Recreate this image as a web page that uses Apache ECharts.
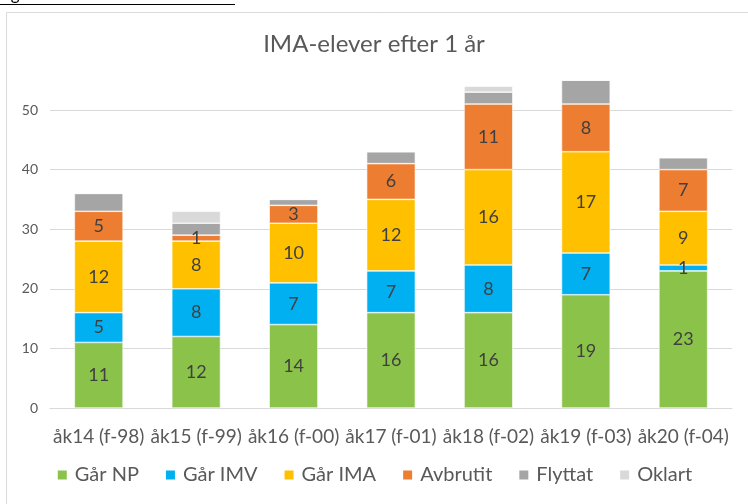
<!DOCTYPE html>
<html>
<head>
<meta charset="utf-8">
<script src="https://cdn.jsdelivr.net/npm/echarts@6/dist/echarts.min.js"></script>
<style>
  html, body { margin: 0; padding: 0; background: #fff; }
  #main { width: 748px; height: 504px; }
</style>
</head>
<body>
<div id="main"></div>
<script>
// data
var categories = ['åk14 (f-98)', 'åk15 (f-99)', 'åk16 (f-00)', 'åk17 (f-01)', 'åk18 (f-02)', 'åk19 (f-03)', 'åk20 (f-04)'];
var garNP = [11, 12, 14, 16, 16, 19, 23];
var garIMV = [5, 8, 7, 7, 8, 7, 1];
var garIMA = [12, 8, 10, 12, 16, 17, 9];
var avbrutit = [5, 1, 3, 6, 11, 8, 7];
var flyttat = [3, 2, 1, 2, 2, 4, 2];
var oklart = [0, 2, 0, 0, 1, 0, 0];
var yTicks = [0, 10, 20, 30, 40, 50];

var font = 'Lato, "Open Sans", sans-serif';

function makeSeries(name, data, color, showLabel) {
    return {
        name: name,
        type: 'bar',
        stack: 'total',
        data: data,
        clip: false,
        barCategoryGap: '50%',
        itemStyle: { color: color, borderColor: '#ffffff', borderWidth: 0.6 },
        label: {
            show: showLabel,
            position: 'inside',
            color: '#404040',
            fontSize: 18,
            fontFamily: font,
            formatter: function (p) { return p.value > 0 ? p.value : ''; }
        }
    };
}

var chart = echarts.init(document.getElementById('main'));

chart.setOption({
    animation: false,
    textStyle: { fontFamily: font },
    title: {
        text: 'IMA-elever efter 1 år',
        left: 'center',
        top: 27,
        textStyle: { color: '#595959', fontSize: 24, fontWeight: 'normal', fontFamily: font }
    },
    graphic: [
        {
            type: 'rect',
            shape: { x: 6.5, y: 12.5, width: 800, height: 600 },
            style: { fill: 'none', stroke: '#d9d9d9', lineWidth: 1 },
            silent: true
        },
        {
            type: 'text',
            left: -3,
            top: -14,
            style: { text: 'Figur 6. IMA-elever efter ett år', fill: '#000', font: '17px ' + font }
        },
        {
            type: 'line',
            shape: { x1: 0, y1: 4.5, x2: 235, y2: 4.5 },
            style: { stroke: '#000', lineWidth: 1.2 }
        }
    ],
    grid: { left: 50, right: 16, top: 110, bottom: 96 },
    legend: {
        bottom: 14,
        left: 'center',
        itemWidth: 11,
        itemHeight: 11,
        itemGap: 25,
        icon: 'rect',
        textStyle: { color: '#595959', fontSize: 20, fontFamily: font, padding: [0, 0, 0, 2] },
        data: ['Går NP', 'Går IMV', 'Går IMA', 'Avbrutit', 'Flyttat', 'Oklart']
    },
    xAxis: {
        type: 'category',
        data: categories,
        axisTick: { show: false },
        axisLine: { lineStyle: { color: '#d9d9d9' } },
        axisLabel: { color: '#595959', fontSize: 19, margin: 19, interval: 0 }
    },
    yAxis: {
        type: 'value',
        min: yTicks[0],
        max: yTicks[yTicks.length - 1],
        interval: 10,
        axisLine: { show: false },
        axisTick: { show: false },
        splitLine: { lineStyle: { color: '#d9d9d9', width: 1 } },
        axisLabel: { color: '#595959', fontSize: 14, margin: 12 }
    },
    series: [
        makeSeries('Går NP', garNP, '#8bc34a', true),
        makeSeries('Går IMV', garIMV, '#00b0f0', true),
        makeSeries('Går IMA', garIMA, '#ffc000', true),
        makeSeries('Avbrutit', avbrutit, '#ed7d31', true),
        makeSeries('Flyttat', flyttat, '#a5a5a5', false),
        makeSeries('Oklart', oklart, '#d9d9d9', false)
    ]
});
</script>
</body>
</html>
